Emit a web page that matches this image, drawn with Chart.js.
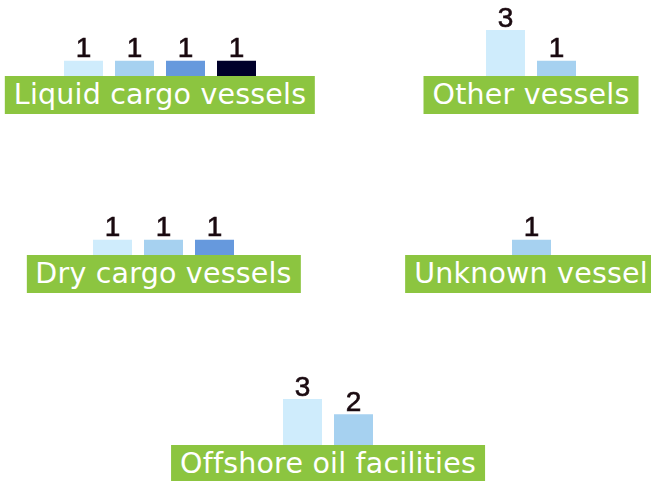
<!DOCTYPE html>
<html>
<head>
<meta charset="utf-8">
<script src="https://cdn.jsdelivr.net/npm/chart.js@4"></script>
<style>
    html, body { margin: 0; padding: 0; background: #fff; }
    #wrap { position: relative; width: 651px; height: 481px; overflow: hidden; background: #fff; }
    #wrap canvas { position: absolute; }
    .tag {
        position: absolute;
        height: 38px;
        line-height: 38px;
        padding: 0 9px;
        background: #8cc540;
        color: #fff;
        font-family: "DejaVu Sans", sans-serif;
        font-size: 28.5px;
        letter-spacing: 0.2px;
        white-space: nowrap;
        transform: translateX(-50%);
    }
</style>
</head>
<body>
<div id="wrap"></div>
<script>
// categories (one small chart each) and the value of each sub-type (0 = no bar)
const categories = ["Liquid cargo vessels", "Other vessels", "Dry cargo vessels", "Unknown vessel", "Offshore oil facilities"];
const liquidCargo = [1, 1, 1, 1];
const otherVessels = [3, 1, 0, 0];
const dryCargo = [1, 1, 1, 0];
const unknownVessel = [0, 1, 0, 0];
const offshoreOil = [3, 2, 0, 0];
const values = [liquidCargo, otherVessels, dryCargo, unknownVessel, offshoreOil];

const seriesColors = ["#cfecfc", "#a6d1f0", "#6699dd", "#00002a"];

// layout: [center x, baseline y] of every panel
const centers = [[160, 76], [531, 76], [163.5, 255], [531, 255], [328, 445]];
const PITCH = 51, BAR = 39, UNIT = 15.33, H = 76;

// numbers above bars
const valueLabels = {
    id: "valueLabels",
    afterDatasetsDraw(chart) {
        const ctx = chart.ctx;
        const meta = chart.getDatasetMeta(0);
        ctx.save();
        ctx.font = "28px 'Liberation Sans', Arial, sans-serif";
        ctx.fillStyle = "#1a0a10";
        ctx.strokeStyle = "#1a0a10";
        ctx.lineWidth = 0.6;
        ctx.textAlign = "center";
        ctx.textBaseline = "alphabetic";
        meta.data.forEach((bar, k) => {
            const txt = String(chart.data.datasets[0].data[k]);
            ctx.fillText(txt, bar.x, bar.y - 3.5);
            ctx.strokeText(txt, bar.x, bar.y - 3.5);
        });
        ctx.restore();
    }
};

const wrap = document.getElementById("wrap");

categories.forEach((name, i) => {
    const idx = values[i].map((v, j) => v > 0 ? j : -1).filter(j => j >= 0);
    const w = idx.length * PITCH;
    const [cx, base] = centers[i];

    const canvas = document.createElement("canvas");
    canvas.width = w;
    canvas.height = H;
    canvas.style.left = (cx - w / 2) + "px";
    canvas.style.top = (base - H) + "px";
    wrap.appendChild(canvas);

    new Chart(canvas, {
        type: "bar",
        data: {
            labels: idx.map(j => String(j + 1)),
            datasets: [{
                data: idx.map(j => values[i][j]),
                backgroundColor: idx.map(j => seriesColors[j]),
                categoryPercentage: 1,
                barPercentage: BAR / PITCH,
                inflateAmount: 0,
                borderWidth: 0
            }]
        },
        options: {
            responsive: false,
            animation: false,
            devicePixelRatio: 1,
            layout: { padding: 0 },
            plugins: {
                legend: { display: false },
                tooltip: { enabled: false }
            },
            scales: {
                x: { display: false },
                y: { display: false, min: 0, max: H / UNIT }
            }
        },
        plugins: [valueLabels]
    });

    const tag = document.createElement("div");
    tag.className = "tag";
    tag.textContent = name;
    tag.style.left = cx + "px";
    tag.style.top = base + "px";
    wrap.appendChild(tag);
});
</script>
</body>
</html>
